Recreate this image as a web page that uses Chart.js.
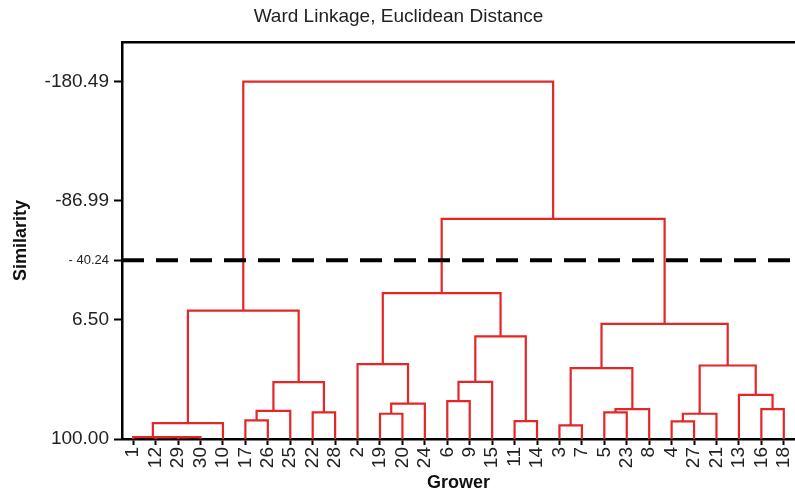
<!DOCTYPE html>
<html>
<head>
<meta charset="utf-8">
<script src="https://cdn.jsdelivr.net/npm/chart.js@4.4.1/dist/chart.umd.min.js"></script>
<style>
  body { margin: 0; background: #fff; }
</style>
</head>
<body>
<canvas id="dendro-chart" width="795" height="496"></canvas>
<script>
// leaf order along the bottom
let growers = ['1', '12', '29', '30', '10', '17', '26', '25', '22', '28',
    '2', '19', '20', '24', '6', '9', '15', '11', '14', '3',
    '7', '5', '23', '8', '4', '27', '21', '13', '16', '18']

// merges, in order: a grower label or '#n' for the n-th merge
let mergeA = ['29', '12', '1', '#2', '17', '#4', '22', '#5', '#3',
    '19', '#9', '2', '6', '#12', '11', '#13', '#11',
    '3', '5', '#18', '#17', '4', '#21', '16', '13', '#22', '#20', '#16', '#8']
let mergeB = ['30', '#0', '#1', '10', '26', '25', '28', '#6', '#7',
    '20', '24', '#10', '9', '15', '14', '#14', '#15',
    '7', '23', '8', '#19', '27', '21', '18', '#23', '#24', '#25', '#26', '#27']
let mergeHeight = [98.6, 98.6, 98.6, 87.5, 85.4, 78.0, 79.1, 55.3, -0.8,
    80.2, 72.3, 41.2, 70.2, 55.1, 85.9, 19.5, -14.5,
    89.3, 79.1, 76.5, 44.3, 86.2, 80.2, 76.5, 65.3, 42.3, 9.6, -72.8, -180.49]

let yTicks = [-180.49, -86.99, -40.24, 6.50, 100.00]
let cutHeight = -40.24
let leafHeight = 100

let red = '#e32626'

// work out where each node sits: leaves at their index, merges at the middle of their children
let nodeX = {}
let nodeH = {}
growers.forEach(function(g, i) {
    nodeX[g] = i
    nodeH[g] = leafHeight
})

let datasets = []

// cut line first so it is drawn on top
datasets.push({
    data: [{x: -0.5, y: cutHeight}, {x: growers.length - 0.5, y: cutHeight}],
    borderColor: '#000',
    borderWidth: 4,
    borderDash: [22, 12]
})

mergeA.forEach(function(a, i) {
    let b = mergeB[i]
    let h = mergeHeight[i]
    datasets.push({
        data: [
            {x: nodeX[a], y: nodeH[a]},
            {x: nodeX[a], y: h},
            {x: nodeX[b], y: h},
            {x: nodeX[b], y: nodeH[b]}
        ],
        borderColor: red,
        borderWidth: 2.2
    })
    nodeX['#' + i] = (nodeX[a] + nodeX[b]) / 2
    nodeH['#' + i] = h
})

datasets.forEach(function(ds) {
    ds.showLine = true
    ds.pointRadius = 0
    ds.fill = false
    ds.tension = 0
})

let fontFamily = '"Liberation Sans", Arial, sans-serif'
Chart.defaults.font.family = fontFamily
Chart.defaults.color = '#222'

let canvas = document.querySelector('#dendro-chart')
let context = canvas.getContext('2d')

let chart = new Chart(context, {
    type: 'scatter',
    data: { datasets: datasets },
    options: {
        responsive: false,
        animation: false,
        devicePixelRatio: 1,
        layout: { padding: { left: 2, right: 0, top: 0, bottom: 0 } },
        plugins: {
            legend: { display: false },
            tooltip: { enabled: false },
            title: {
                display: true,
                text: 'Ward Linkage, Euclidean Distance',
                font: { size: 19, weight: 'normal' },
                color: '#222',
                padding: { top: 5, bottom: 14.2 }
            }
        },
        scales: {
            x: {
                type: 'linear',
                position: 'bottom',
                min: -0.5,
                max: growers.length - 0.5,
                afterBuildTicks: function(scale) {
                    scale.ticks = growers.map(function(g, i) { return {value: i} })
                },
                afterFit: function(scale) {
                    scale.height = 57
                    scale.paddingLeft = 0
                    scale.paddingRight = 0
                },
                ticks: {
                    autoSkip: false,
                    minRotation: 90,
                    maxRotation: 90,
                    padding: 2,
                    font: { size: 19 },
                    color: '#222',
                    callback: function(value) { return growers[value] }
                },
                grid: {
                    drawOnChartArea: false,
                    drawTicks: true,
                    tickLength: 6,
                    tickColor: '#000',
                    tickWidth: 2
                },
                border: { color: '#000', width: 2.5 },
                title: {
                    display: true,
                    text: 'Grower',
                    font: { size: 18, weight: 'bold' },
                    color: '#111',
                    padding: { top: 0, bottom: 2 }
                }
            },
            xTop: {
                type: 'linear',
                position: 'top',
                min: 0,
                max: 1,
                grid: { display: false },
                ticks: { display: false },
                afterFit: function(scale) { scale.height = 0 },
                border: { color: '#000', width: 2.5 }
            },
            y: {
                type: 'linear',
                reverse: true,
                min: -211.6,
                max: 100,
                afterBuildTicks: function(scale) {
                    scale.ticks = yTicks.map(function(v) { return {value: v} })
                },
                afterFit: function(scale) {
                    scale.width = 120
                    scale.paddingTop = 0
                    scale.paddingBottom = 0
                },
                ticks: {
                    padding: 5,
                    color: '#222',
                    font: function(ctx) {
                        if (ctx.tick && ctx.tick.value === cutHeight) return { size: 13 }
                        return { size: 19 }
                    },
                    callback: function(value) {
                        if (value === cutHeight) return '- ' + Math.abs(value).toFixed(2)
                        return value.toFixed(2)
                    }
                },
                grid: {
                    drawOnChartArea: false,
                    drawTicks: true,
                    tickLength: 8,
                    tickColor: '#000',
                    tickWidth: 2
                },
                border: { color: '#000', width: 2.5 },
                title: {
                    display: true,
                    text: 'Similarity',
                    font: { size: 18, weight: 'bold' },
                    color: '#111',
                    padding: { top: 8, bottom: 0 }
                }
            }
        }
    }
})
</script>
</body>
</html>
